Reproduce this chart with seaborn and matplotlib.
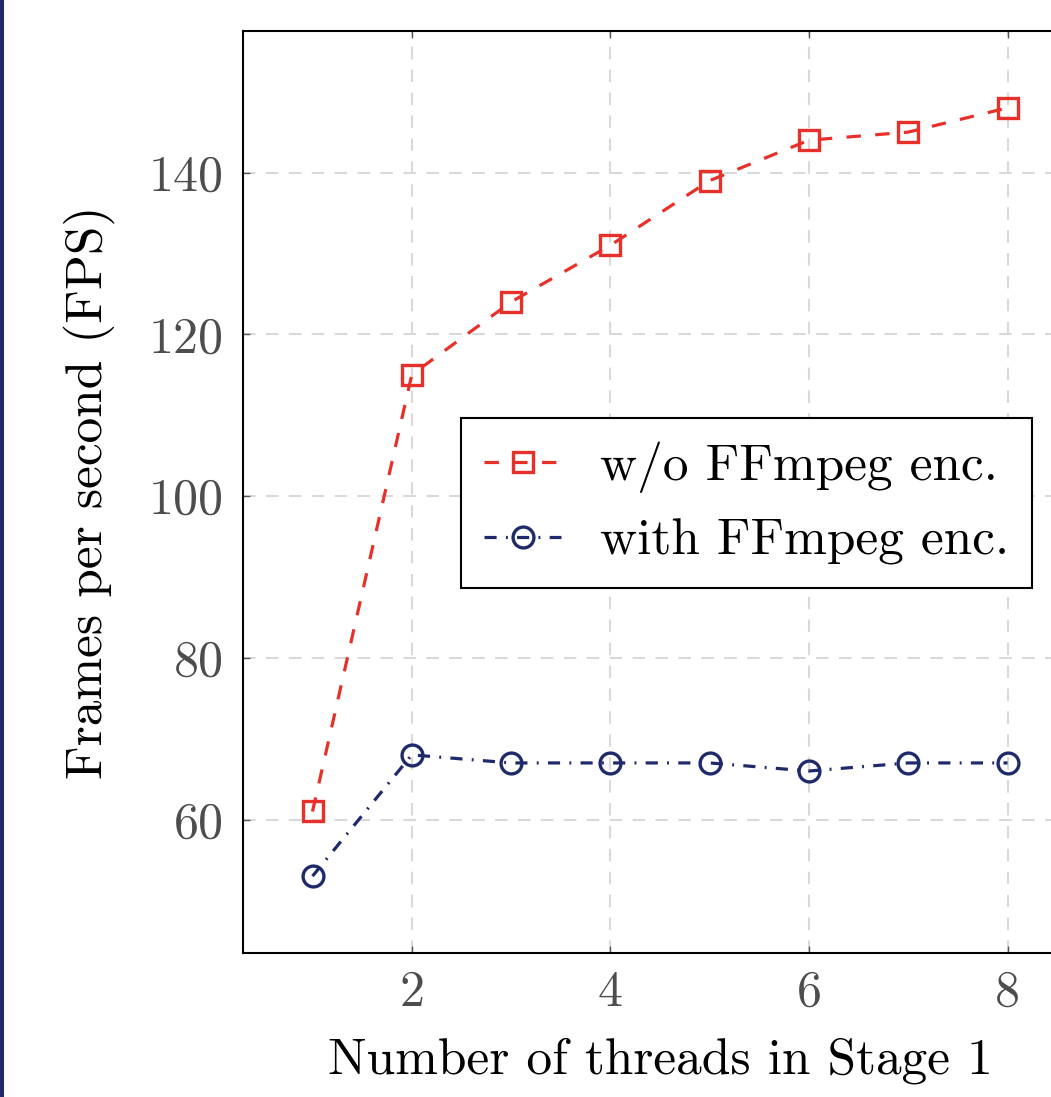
import numpy as np
import pandas as pd
import matplotlib
matplotlib.use("Agg")
import matplotlib.pyplot as plt
from matplotlib.patches import Rectangle
import seaborn as sns

# data
threads = [1, 2, 3, 4, 5, 6, 7, 8]
fps_without_enc = [61, 115, 124, 131, 139, 144, 145, 148]
fps_with_enc = [53, 68, 67, 67, 67, 66, 67, 67]
xticks = [2, 4, 6, 8]
yticks = [60, 80, 100, 120, 140]

red = "#E8302A"
navy = "#1F2A6B"

sns.set_style("white")
plt.rcParams["font.family"] = ["cmr10", "DejaVu Serif"]
plt.rcParams["mathtext.fontset"] = "cm"
plt.rcParams["axes.formatter.use_mathtext"] = True

fig = plt.figure(figsize=(10.51, 10.97), dpi=100)
# axes spans px 243..1077 horizontally (right edge cut off), 31..953 vertically
W, H = 1051, 1097
ax = fig.add_axes([243 / W, 1 - 953 / H, (1077 - 243) / W, (953 - 31) / H])

df = pd.DataFrame({"threads": threads,
                   "without": fps_without_enc,
                   "with": fps_with_enc})

sns.lineplot(data=df, x="threads", y="without", ax=ax, color=red,
             linestyle=(0, (4.5, 4.5)), linewidth=2.3, marker="s", markersize=15,
             markerfacecolor="none", markeredgecolor=red, markeredgewidth=2.4,
             label="w/o FFmpeg enc.")
sns.lineplot(data=df, x="threads", y="with", ax=ax, color=navy,
             linestyle=(0, (3.8, 2.9, 0.6, 2.9)), linewidth=2.3, marker="o",
             markersize=15, markerfacecolor="none", markeredgecolor=navy,
             markeredgewidth=2.4, label="with FFmpeg enc.")

ax.set_xlim(0.3, 8.7)
ax.set_ylim(43.5, 157.5)
ax.set_xticks(xticks)
ax.set_xticklabels([str(v) for v in xticks])
ax.set_yticks(yticks)
ax.set_yticklabels([str(v) for v in yticks])

ax.grid(True, color="#d9d9d9", linestyle=(0, (6, 5)), linewidth=1.5)
ax.set_axisbelow(True)
for s in ax.spines.values():
    s.set_color("black")
    s.set_linewidth(1.5)
    s.set_visible(True)

ax.tick_params(axis="both", direction="in", length=5, width=1, color="#555555",
               labelcolor="#4d4d4d", labelsize=36, top=True, right=True,
               bottom=True, left=True)
ax.tick_params(axis="y", pad=14)
ax.tick_params(axis="x", pad=12)

ax.set_xlabel("Number of threads in Stage 1", fontsize=37, color="black", labelpad=16)
ax.set_ylabel("Frames per second (FPS)", fontsize=37, color="black", labelpad=24)

leg = ax.legend(loc="upper right", bbox_to_anchor=(0.946, 0.580), fontsize=37,
                frameon=True, fancybox=False, edgecolor="black", framealpha=1,
                handlelength=1.5, borderpad=0.45, labelspacing=0.5,
                handletextpad=0.75, borderaxespad=0)
leg.get_frame().set_linewidth(1.5)
for t in leg.get_texts():
    t.set_color("black")

# navy strip at the left edge
fig.patches.append(Rectangle((0, 0), 4 / W, 1, transform=fig.transFigure,
                             facecolor=navy, edgecolor="none", zorder=0))

fig.savefig("out.png", dpi=100)
